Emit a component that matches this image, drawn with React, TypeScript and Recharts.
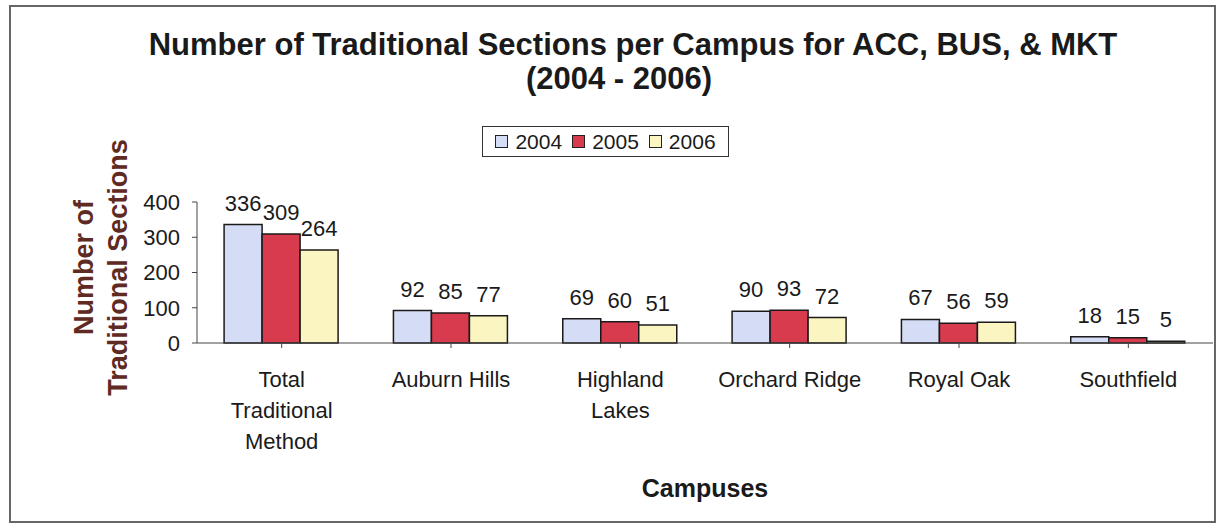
import React from 'react';
import { BarChart, Bar, XAxis, YAxis, LabelList } from 'recharts';

// Sections per campus, ACC + BUS + MKT combined
const campuses = [
  'Total\nTraditional\nMethod',
  'Auburn Hills',
  'Highland\nLakes',
  'Orchard Ridge',
  'Royal Oak',
  'Southfield',
];
const sections2004 = [336, 92, 69, 90, 67, 18];
const sections2005 = [309, 85, 60, 93, 56, 15];
const sections2006 = [264, 77, 51, 72, 59, 5];
const years = ['2004', '2005', '2006'];
const yTicks = [0, 100, 200, 300, 400];

const FONT = '"Liberation Sans", Arial, sans-serif';
const TEXT = '#1a1a1a';
const fills: Record<string, string> = {
  '2004': '#d5dcf5',
  '2005': '#d83a4e',
  '2006': '#fbf6c1',
};

const data = campuses.map((campus, i) => ({
  campus,
  '2004': sections2004[i],
  '2005': sections2005[i],
  '2006': sections2006[i],
}));

const CampusTick = (props: any) => {
  const { x, y, payload } = props;
  const lines = String(payload.value).split('\n');
  return (
    <text x={x} y={y} textAnchor="middle" fontFamily={FONT} fontSize={22} fill={TEXT}>
      {lines.map((line, i) => (
        <tspan key={i} x={x} dy={i === 0 ? 37 : 31}>
          {line}
        </tspan>
      ))}
    </text>
  );
};

const YTitle = (props: any) => {
  const { viewBox } = props;
  const cy = viewBox.y + viewBox.height / 2 - 5;
  const rows = [
    { text: 'Number of', x: 84 },
    { text: 'Traditional Sections', x: 118 },
  ];
  return (
    <g>
      {rows.map((r) => (
        <text
          key={r.text}
          x={r.x}
          y={cy}
          transform={`rotate(-90, ${r.x}, ${cy})`}
          textAnchor="middle"
          dominantBaseline="central"
          fontFamily={FONT}
          fontSize={27}
          fontWeight="bold"
          fill="#5e2a22"
        >
          {r.text}
        </text>
      ))}
    </g>
  );
};

const XTitle = (props: any) => {
  const { viewBox } = props;
  return (
    <text
      x={viewBox.x + viewBox.width / 2}
      y={viewBox.y + 145}
      textAnchor="middle"
      dominantBaseline="central"
      fontFamily={FONT}
      fontSize={25}
      fontWeight="bold"
      fill={TEXT}
    >
      Campuses
    </text>
  );
};

export default function App() {
  return (
    <div style={{ position: 'absolute', left: 0, top: 0, width: 1221, height: 527, background: '#fff', fontFamily: FONT }}>
      <div
        style={{
          position: 'absolute',
          left: 9,
          top: 5,
          width: 1207,
          height: 518,
          border: '2px solid #666',
          boxSizing: 'border-box',
        }}
      />
      <div style={{ position: 'absolute', left: 633, top: 45, transform: 'translate(-50%, -50%)', whiteSpace: 'nowrap', fontSize: 31, fontWeight: 'bold', color: TEXT }}>
        Number of Traditional Sections per Campus for ACC, BUS, &amp; MKT
      </div>
      <div style={{ position: 'absolute', left: 619, top: 79, transform: 'translate(-50%, -50%)', whiteSpace: 'nowrap', fontSize: 31, fontWeight: 'bold', color: TEXT }}>
        (2004 - 2006)
      </div>

      <div
        style={{
          position: 'absolute',
          left: 482,
          top: 126,
          width: 247,
          height: 31,
          border: '1.5px solid #333',
          boxSizing: 'border-box',
          display: 'flex',
          alignItems: 'center',
          justifyContent: 'center',
          gap: 10,
        }}
      >
        {years.map((y) => (
          <div key={y} style={{ display: 'flex', alignItems: 'center', gap: 7 }}>
            <span style={{ width: 11, height: 11, background: fills[y], border: '1px solid #222', display: 'inline-block' }} />
            <span style={{ fontSize: 21, color: TEXT, lineHeight: '21px' }}>{y}</span>
          </div>
        ))}
      </div>

      <div style={{ position: 'absolute', left: 0, top: 0 }}>
        <BarChart
          width={1221}
          height={527}
          data={data}
          margin={{ top: 202, right: 8, bottom: 0, left: 0 }}
          barCategoryGap="16%"
          barGap={0}
        >
          <XAxis
            dataKey="campus"
            height={184}
            interval={0}
            stroke="#444"
            tickSize={5}
            tickMargin={2}
            tick={<CampusTick />}
            label={<XTitle />}
          />
          <YAxis
            width={197}
            domain={[0, 400]}
            ticks={yTicks}
            stroke="#444"
            tickSize={5}
            tickMargin={12}
            tick={{ fontFamily: FONT, fontSize: 22, fill: TEXT }}
            label={<YTitle />}
          />
          {years.map((y) => (
            <Bar key={y} dataKey={y} fill={fills[y]} stroke="#1a1a1a" strokeWidth={1.5} isAnimationActive={false}>
              <LabelList dataKey={y} position="top" offset={14} fontFamily={FONT} fontSize={22} fill={TEXT} />
            </Bar>
          ))}
        </BarChart>
      </div>
    </div>
  );
}
